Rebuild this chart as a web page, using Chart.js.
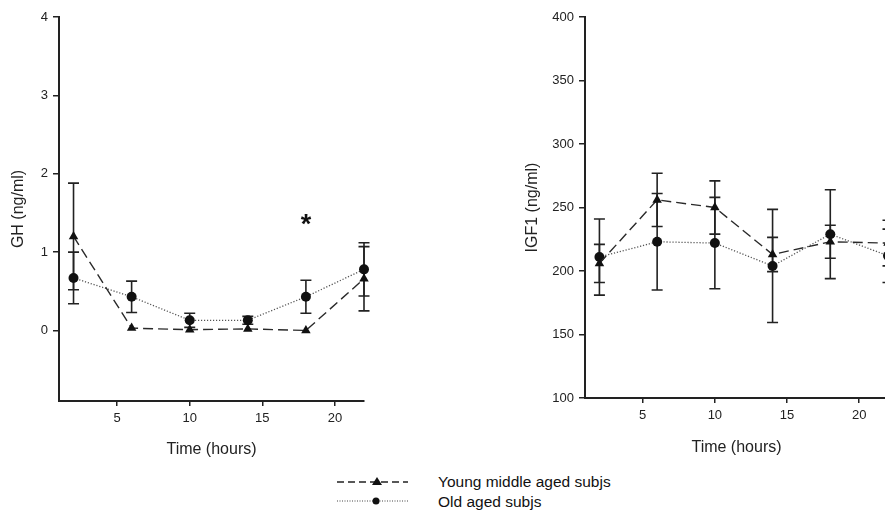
<!DOCTYPE html>
<html>
<head>
<meta charset="utf-8">
<script src="https://cdn.jsdelivr.net/npm/chart.js@4.4.1/dist/chart.umd.min.js"></script>
<style>
  body { margin: 0; width: 885px; height: 518px; overflow: hidden; background: #fff; position: relative; }
  canvas { position: absolute; top: 0; }
  #gh { left: 0; }
  #igf { left: 500px; }
  #key { position: absolute; left: 330px; top: 470px; }
  #keyText { position: absolute; left: 438px; top: 472px; font: 15.5px 'Liberation Sans', Arial, sans-serif; line-height: 20px; color: #111; }
</style>
</head>
<body>
<canvas id="gh" width="380" height="470"></canvas>
<canvas id="igf" width="400" height="470"></canvas>

<svg id="key" width="90" height="42">
  <line x1="7" y1="12" x2="78" y2="12" stroke="#222" stroke-width="1.3" stroke-dasharray="7 4"/>
  <polygon points="47,7 52,15 42,15" fill="#111"/>
  <line x1="7" y1="31" x2="78" y2="31" stroke="#444" stroke-width="1.2" stroke-dasharray="1 1.5"/>
  <circle cx="46" cy="31" r="3.5" fill="#111"/>
</svg>
<div id="keyText">Young middle aged subjs<br>Old aged subjs</div>

<script>
// sampling times (hours)
const hours = [2, 6, 10, 14, 18, 22];
const xTicks = [5, 10, 15, 20];

// GH, ng/ml (mean and SEM)
const ghYoung = [1.2, 0.03, 0.01, 0.02, 0.0, 0.66];
const ghYoungErr = [0.68, 0, 0, 0, 0, 0.41];
const ghOld = [0.67, 0.43, 0.13, 0.13, 0.43, 0.78];
const ghOldErr = [0.33, 0.2, 0.09, 0.05, 0.21, 0.34];
const ghTicks = [0, 1, 2, 3, 4];

// IGF1, ng/ml (mean and SEM)
const igfYoung = [206, 256, 250, 213, 223, 222];
const igfYoungErr = [15, 21, 21, 13.5, 13, 18];
const igfOld = [211, 223, 222, 204, 229, 212];
const igfOldErr = [30, 38, 36, 44.5, 35, 21];
const igfTicks = [100, 150, 200, 250, 300, 350, 400];

// significance mark on the GH panel
const starHour = 18;
const starValue = 1.43;

const ink = '#222';
Chart.defaults.font.family = "'Liberation Sans', Arial, sans-serif";
Chart.defaults.color = ink;

const errorBars = {
  id: 'errorBars',
  beforeDatasetsDraw(chart) {
    const { ctx, scales: { x, y } } = chart;
    ctx.save();
    ctx.strokeStyle = ink;
    ctx.lineWidth = 1.6;
    chart.data.datasets.forEach(ds => {
      ds.data.forEach((p, i) => {
        const err = ds.errors[i];
        if (!err) return;
        const px = x.getPixelForValue(p.x);
        const top = y.getPixelForValue(p.y + err);
        const bot = y.getPixelForValue(p.y - err);
        ctx.beginPath();
        ctx.moveTo(px, top); ctx.lineTo(px, bot);
        ctx.moveTo(px - 5.5, top); ctx.lineTo(px + 5.5, top);
        ctx.moveTo(px - 5.5, bot); ctx.lineTo(px + 5.5, bot);
        ctx.stroke();
      });
    });
    ctx.restore();
  }
};

const starMark = {
  id: 'starMark',
  afterDatasetsDraw(chart, args, opts) {
    if (opts.value == null) return;
    const { ctx, scales: { x, y } } = chart;
    const size = 27;
    ctx.save();
    ctx.fillStyle = '#111';
    ctx.font = 'bold ' + size + "px 'Liberation Sans', Arial, sans-serif";
    ctx.textAlign = 'center';
    ctx.textBaseline = 'alphabetic';
    ctx.fillText('*', x.getPixelForValue(opts.hour), y.getPixelForValue(opts.value) + size * 0.55);
    ctx.restore();
  }
};

function series(values, errors, young) {
  return {
    data: hours.map((h, i) => ({ x: h, y: values[i] })),
    errors: errors,
    borderColor: young ? '#2a2a2a' : '#555',
    borderWidth: young ? 1.4 : 1.3,
    borderDash: young ? [10, 5] : [1.2, 1.8],
    pointStyle: young ? 'triangle' : 'circle',
    pointRadius: young ? 5.5 : 5,
    pointBackgroundColor: '#111',
    pointBorderColor: '#111',
    pointBorderWidth: 0,
    tension: 0,
    fill: false,
    clip: false
  };
}

function makeChart(id, opt) {
  return new Chart(document.getElementById(id), {
    type: 'line',
    data: {
      datasets: [
        series(opt.young, opt.youngErr, true),
        series(opt.old, opt.oldErr, false)
      ]
    },
    options: {
      responsive: false,
      animation: false,
      layout: { padding: { top: 17, right: opt.padRight, bottom: opt.padBottom, left: 0 } },
      plugins: {
        legend: { display: false },
        tooltip: { enabled: false },
        starMark: opt.star || {}
      },
      scales: {
        x: {
          type: 'linear',
          min: 1,
          max: 22,
          afterBuildTicks: s => { s.ticks = xTicks.map(v => ({ value: v })); },
          afterFit: s => { s.height = 60; },
          grid: { drawOnChartArea: false, tickLength: 5, color: ink, lineWidth: 1.5 },
          border: { color: ink, width: 2 },
          ticks: { padding: 5, font: { size: 13 } },
          title: { display: true, text: 'Time (hours)', padding: { top: 0, bottom: opt.xTitlePad }, font: { size: 16 } }
        },
        y: {
          type: 'linear',
          min: opt.yMin,
          max: opt.yMax,
          afterBuildTicks: s => { s.ticks = opt.yTicks.map(v => ({ value: v })); },
          afterFit: s => { s.width = opt.yWidth; },
          grid: { drawOnChartArea: false, tickLength: 6, color: ink, lineWidth: 1.5 },
          border: { color: ink, width: 2 },
          ticks: { padding: 5, font: { size: 13 } },
          title: { display: true, text: opt.yTitle, padding: { top: opt.yTitlePad, bottom: 0 }, font: { size: 16 } }
        }
      }
    },
    plugins: [errorBars, starMark]
  });
}

makeChart('gh', {
  young: ghYoung, youngErr: ghYoungErr, old: ghOld, oldErr: ghOldErr,
  yMin: -0.9, yMax: 4, yTicks: ghTicks, yTitle: 'GH (ng/ml)',
  yWidth: 59, yTitlePad: 9, padRight: 16, padBottom: 9, xTitlePad: 2,
  star: { hour: starHour, value: starValue }
});

makeChart('igf', {
  young: igfYoung, youngErr: igfYoungErr, old: igfOld, oldErr: igfOldErr,
  yMin: 100, yMax: 400, yTicks: igfTicks, yTitle: 'IGF1 (ng/ml)',
  yWidth: 85, yTitlePad: 23, padRight: 12, padBottom: 12, xTitlePad: 1
});
</script>
</body>
</html>
